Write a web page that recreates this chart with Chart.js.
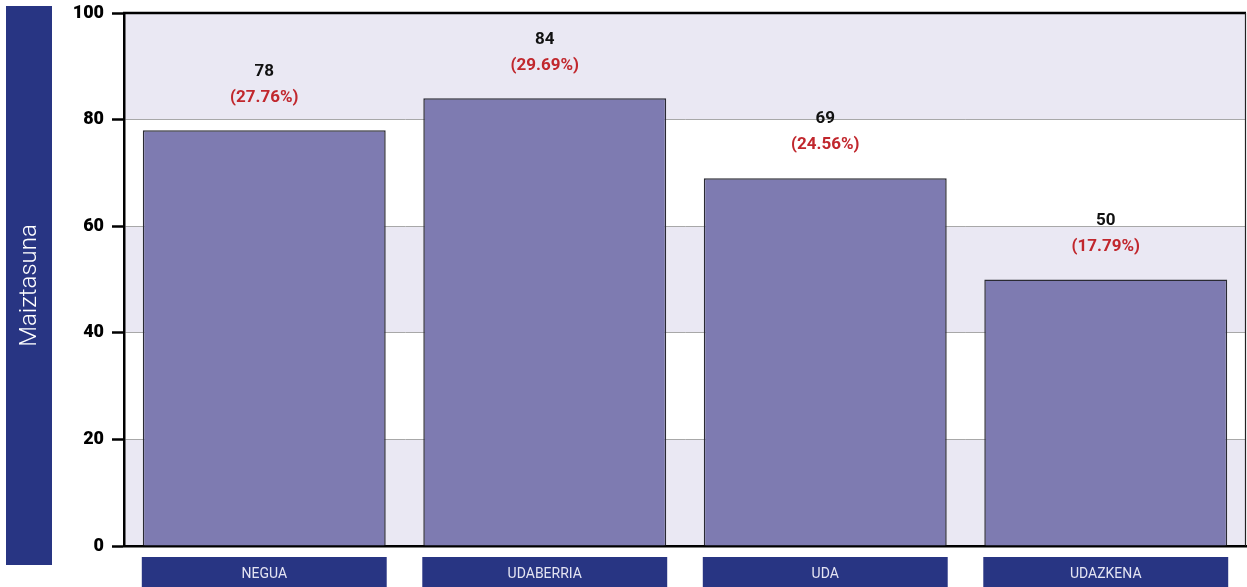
<!DOCTYPE html>
<html>
<head>
<meta charset="utf-8">
<script src="https://cdn.jsdelivr.net/npm/chart.js@4/dist/chart.umd.min.js"></script>
<style>
html,body{margin:0;padding:0;background:#fff;}
#wrap{width:1247px;height:587px;position:relative;}
</style>
</head>
<body>
<div id="wrap"><canvas id="c" width="1247" height="587"></canvas></div>
<script>
const categories = ["NEGUA", "UDABERRIA", "UDA", "UDAZKENA"];
const counts = [78, 84, 69, 50];
const percents = ["27.76%", "29.69%", "24.56%", "17.79%"];
const yTicks = [0, 20, 40, 60, 80, 100];
const yTitle = "Maiztasuna";

const NAVY = "#283583";
const BAND = "#EAE8F3";
const BAR = "#7E7BB1";
const RED = "#C1272D";

const decor = {
  id: "decor",
  beforeDraw(chart) {
    const ctx = chart.ctx, a = chart.chartArea, y = chart.scales.y;
    ctx.save();
    ctx.fillStyle = NAVY;
    ctx.fillRect(6, 6, 46, a.bottom + 19 - 6);
    ctx.translate(30, (6 + a.bottom + 19) / 2);
    ctx.rotate(-Math.PI / 2);
    ctx.fillStyle = "#ffffff";
    ctx.font = "300 24px Roboto";
    ctx.textAlign = "center";
    ctx.textBaseline = "middle";
    ctx.fillText(yTitle, 0, 0);
    ctx.restore();
    ctx.save();
    ctx.fillStyle = BAND;
    for (let i = 0; i < yTicks.length - 1; i += 2) {
      const top = y.getPixelForValue(yTicks[i + 1]);
      const bot = y.getPixelForValue(yTicks[i]);
      ctx.fillRect(a.left, top, a.right - a.left, bot - top);
    }
    const t = y.getPixelForValue(yTicks[yTicks.length - 1]);
    const b = y.getPixelForValue(yTicks[yTicks.length - 2]);
    ctx.fillRect(a.left, t, a.right - a.left, b - t);
    ctx.restore();
  },
  afterDraw(chart) {
    const ctx = chart.ctx, a = chart.chartArea;
    ctx.save();
    ctx.strokeStyle = "#000";
    ctx.lineWidth = 2.5;
    ctx.beginPath();
    ctx.moveTo(a.left - 1, a.top);
    ctx.lineTo(a.right, a.top);
    ctx.stroke();
    ctx.lineWidth = 1.2;
    ctx.strokeStyle = "#222";
    ctx.beginPath();
    ctx.moveTo(a.right - 0.5, a.top);
    ctx.lineTo(a.right - 0.5, a.bottom);
    ctx.stroke();
    const meta = chart.getDatasetMeta(0);
    meta.data.forEach((bar, i) => {
      const w = bar.width + 2;
      const x0 = bar.x - w / 2;
      ctx.fillStyle = NAVY;
      ctx.fillRect(x0, a.bottom + 11, w, 30);
      ctx.fillStyle = "#E4E4F2";
      ctx.font = "14px 'Liberation Sans Narrow', 'Roboto'";
      ctx.textAlign = "center";
      ctx.textBaseline = "middle";
      ctx.fillText(categories[i], bar.x, a.bottom + 28);
      ctx.font = "bold 17px Roboto";
      ctx.fillStyle = "#111";
      ctx.fillText(String(counts[i]), bar.x, bar.y - 59);
      ctx.fillStyle = RED;
      ctx.fillText("(" + percents[i] + ")", bar.x, bar.y - 33);
    });
    ctx.restore();
  }
};

new Chart(document.getElementById("c"), {
  type: "bar",
  data: {
    labels: categories,
    datasets: [{
      data: counts,
      backgroundColor: BAR,
      borderColor: "#2a2a33",
      borderWidth: 1.5,
      borderSkipped: "bottom",
      barPercentage: 0.866,
      categoryPercentage: 1.0
    }]
  },
  options: {
    responsive: false,
    animation: false,
    devicePixelRatio: 1,
    layout: { padding: { left: 0, top: 13, right: 1, bottom: 0 } },
    plugins: { legend: { display: false }, tooltip: { enabled: false } },
    scales: {
      x: {
        grid: { display: false },
        ticks: { display: false },
        border: { display: true, color: "#000", width: 2.5 },
        afterFit(scale) { scale.height = 41; }
      },
      y: {
        min: 0, max: 100,
        afterBuildTicks(scale) { scale.ticks = yTicks.map(v => ({ value: v })); },
        afterFit(scale) { scale.width = 124; scale.paddingTop = 0; scale.paddingBottom = 0; },
        grid: {
          color: ctx => (ctx.tick && (ctx.tick.value === 0 || ctx.tick.value === 100)) ? "rgba(0,0,0,0)" : "#a8a8a8",
          lineWidth: 1,
          drawTicks: true,
          tickLength: 12,
          tickColor: "#000",
          tickWidth: 2.5
        },
        border: { display: true, color: "#000", width: 2.5 },
        ticks: {
          color: "#000",
          padding: 8,
          font: { family: "Roboto", weight: "900", size: 18 }
        }
      }
    }
  },
  plugins: [decor]
});
</script>
</body>
</html>
